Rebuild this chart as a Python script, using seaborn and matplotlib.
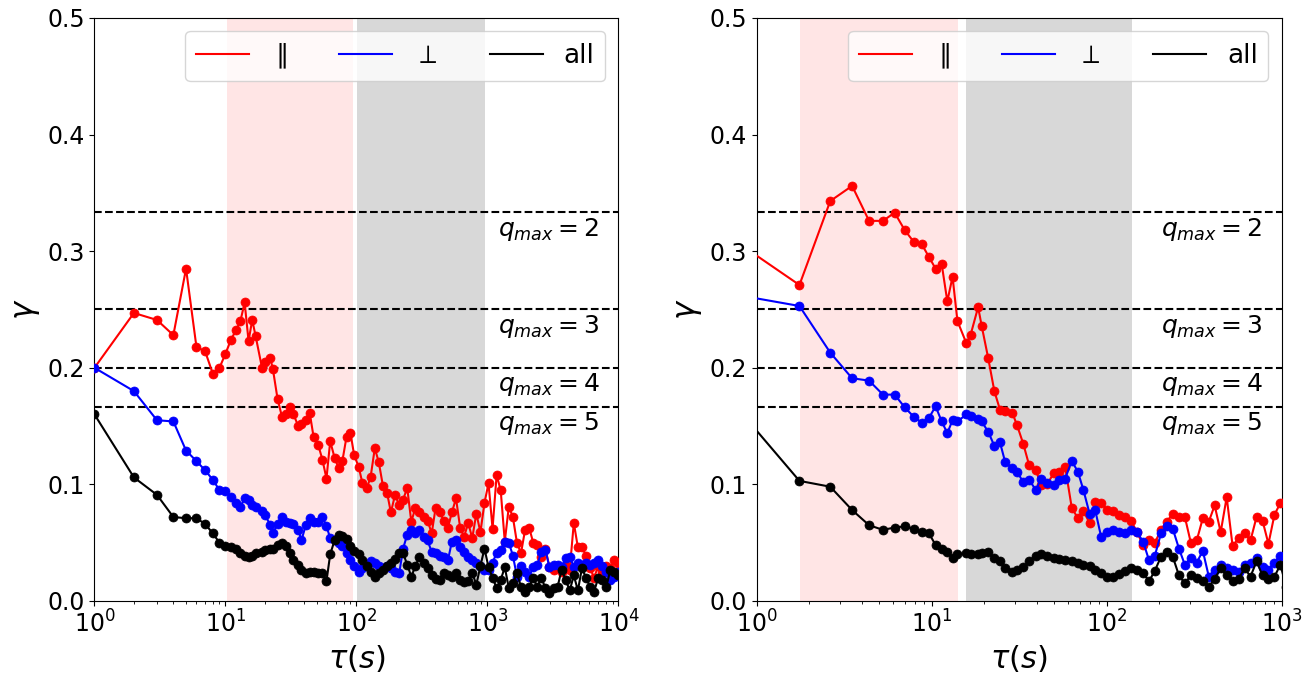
import matplotlib
matplotlib.use("Agg")
import matplotlib.pyplot as plt
from matplotlib.lines import Line2D
import matplotlib.transforms as mtransforms
import numpy as np
import pandas as pd
import seaborn as sns

# ---- data ----
# left panel: integer lags on a log grid, 1 .. 1e4
tau_left = np.unique(np.round(np.logspace(0, 4, 130)))

red_left = [0.200, 0.247, 0.241, 0.228, 0.285, 0.218, 0.214, 0.195, 0.200, 0.212, 0.224, 0.232, 0.240, 0.256, 0.223, 0.241, 0.227,
            0.200, 0.205, 0.208, 0.199, 0.173, 0.158, 0.160, 0.166, 0.160,
            0.150, 0.152, 0.155, 0.161, 0.141, 0.134, 0.121, 0.105, 0.137, 0.123,
            0.114, 0.120, 0.141, 0.144, 0.125, 0.115, 0.101, 0.097, 0.106, 0.131,
            0.119, 0.099, 0.093, 0.076, 0.091, 0.082, 0.087, 0.097, 0.068, 0.080,
            0.076, 0.072, 0.069, 0.058, 0.080, 0.076, 0.069, 0.063, 0.076, 0.088,
            0.063, 0.055, 0.067, 0.054, 0.075, 0.059, 0.084, 0.101, 0.062, 0.108,
            0.095, 0.051, 0.081, 0.072, 0.050, 0.041, 0.061, 0.063, 0.050, 0.048,
            0.038, 0.045, 0.029, 0.027, 0.030, 0.025, 0.030, 0.027, 0.067, 0.046,
            0.046, 0.039, 0.028, 0.020, 0.030, 0.025, 0.030, 0.028, 0.035, 0.033]

blue_left = [0.200, 0.180, 0.155, 0.154, 0.129, 0.120, 0.112, 0.104, 0.095, 0.094, 0.089, 0.084, 0.081, 0.088, 0.087, 0.082, 0.081,
             0.077, 0.074, 0.065, 0.058, 0.066, 0.072, 0.068, 0.067, 0.066,
             0.061, 0.052, 0.065, 0.071, 0.068, 0.068, 0.072, 0.064, 0.054, 0.052,
             0.050, 0.047, 0.041, 0.035, 0.030, 0.025, 0.028, 0.030, 0.034, 0.033,
             0.030, 0.028, 0.030, 0.028, 0.025, 0.024, 0.045, 0.057, 0.061, 0.058,
             0.061, 0.055, 0.052, 0.042, 0.041, 0.039, 0.038, 0.035, 0.051, 0.052,
             0.046, 0.042, 0.038, 0.035, 0.033, 0.030, 0.027, 0.027, 0.033, 0.041,
             0.044, 0.051, 0.050, 0.039, 0.021, 0.030, 0.025, 0.021, 0.029, 0.031,
             0.042, 0.044, 0.029, 0.031, 0.031, 0.029, 0.037, 0.038, 0.029, 0.033,
             0.031, 0.033, 0.031, 0.033, 0.035, 0.030, 0.025, 0.018, 0.021, 0.025]

black_left = [0.160, 0.106, 0.091, 0.072, 0.071, 0.071, 0.066, 0.058, 0.050, 0.047, 0.046, 0.045, 0.041, 0.039, 0.038, 0.039, 0.041,
              0.042, 0.044, 0.045, 0.045, 0.048, 0.050, 0.047, 0.041, 0.035,
              0.031, 0.027, 0.024, 0.025, 0.025, 0.024, 0.024, 0.017, 0.040, 0.052,
              0.057, 0.056, 0.053, 0.047, 0.043, 0.040, 0.035, 0.030, 0.025, 0.021,
              0.024, 0.027, 0.030, 0.033, 0.036, 0.041, 0.041, 0.031, 0.021, 0.030,
              0.038, 0.033, 0.028, 0.022, 0.019, 0.018, 0.024, 0.022, 0.021, 0.024,
              0.018, 0.016, 0.017, 0.024, 0.014, 0.030, 0.045, 0.029, 0.020, 0.011,
              0.018, 0.029, 0.011, 0.015, 0.024, 0.012, 0.008, 0.012, 0.020, 0.012,
              0.020, 0.011, 0.007, 0.011, 0.012, 0.027, 0.018, 0.009, 0.022, 0.009,
              0.028, 0.020, 0.012, 0.008, 0.020, 0.018, 0.012, 0.027, 0.025, 0.022]

# right panel: lag index times sampling step
dt_right = 0.877
k_right = [1, 2, 3, 4, 5, 6, 7, 8, 9, 10, 11, 12, 13, 14, 15, 16,
           18, 19, 21, 22, 24, 26, 28, 30, 33, 35, 38,
           41, 45, 48, 52, 57, 61, 66, 72, 78, 84,
           91, 98, 106, 115, 124, 134, 145, 157, 170, 184,
           199, 215, 233, 252, 272, 295, 319, 345, 373, 404,
           437, 472, 511, 553, 598, 647, 700, 757, 819, 886,
           958, 1037, 1121, 1213]
tau_right = dt_right * np.array(k_right)

red_right = [0.302, 0.271, 0.343, 0.356, 0.326, 0.326, 0.333, 0.318, 0.308, 0.306,
             0.295, 0.285, 0.289, 0.257, 0.278, 0.240, 0.221, 0.228, 0.252, 0.236,
             0.208, 0.180, 0.164, 0.163, 0.161, 0.151, 0.135, 0.117, 0.112, 0.0995,
             0.100, 0.110, 0.111, 0.115, 0.080, 0.071, 0.077, 0.067, 0.085, 0.084,
             0.078, 0.077, 0.074, 0.072, 0.069, 0.059, 0.048, 0.052, 0.050, 0.061,
             0.068, 0.075, 0.072, 0.072, 0.050, 0.052, 0.071, 0.068, 0.082, 0.059,
             0.089, 0.047, 0.054, 0.058, 0.052, 0.072, 0.069, 0.049, 0.074, 0.084,
             0.086]

blue_right = [0.261, 0.253, 0.213, 0.191, 0.189, 0.177, 0.177, 0.166, 0.158, 0.153,
              0.157, 0.167, 0.154, 0.144, 0.155, 0.154, 0.160, 0.159, 0.156, 0.154,
              0.145, 0.133, 0.136, 0.119, 0.114, 0.111, 0.102, 0.104, 0.095, 0.105,
              0.101, 0.0995, 0.104, 0.105, 0.120, 0.111, 0.095, 0.075, 0.078, 0.055,
              0.059, 0.061, 0.059, 0.058, 0.061, 0.059, 0.051, 0.035, 0.039, 0.058,
              0.064, 0.062, 0.045, 0.031, 0.037, 0.033, 0.043, 0.021, 0.027, 0.031,
              0.028, 0.027, 0.025, 0.031, 0.033, 0.037, 0.029, 0.027, 0.033, 0.039,
              0.035]

black_right = [0.156, 0.103, 0.098, 0.078, 0.065, 0.061, 0.063, 0.064, 0.062, 0.059,
               0.058, 0.048, 0.045, 0.042, 0.037, 0.040, 0.041, 0.040, 0.040, 0.041,
               0.042, 0.037, 0.034, 0.028, 0.025, 0.027, 0.029, 0.034, 0.039, 0.040,
               0.039, 0.037, 0.036, 0.035, 0.034, 0.033, 0.031, 0.030, 0.027, 0.024,
               0.021, 0.021, 0.023, 0.026, 0.028, 0.027, 0.024, 0.017, 0.026, 0.038,
               0.042, 0.038, 0.022, 0.015, 0.022, 0.020, 0.017, 0.012, 0.019, 0.028,
               0.022, 0.017, 0.019, 0.028, 0.021, 0.034, 0.022, 0.019, 0.021, 0.031,
               0.012]

series_names = [r"$\parallel$", r"$\perp$", "all"]
series_colors = ["red", "blue", "black"]
q_max = [2, 3, 4, 5]

# shaded windows (pink, gray) per panel
spans_left = [(10.3, 94.5), (100.4, 960)]
spans_right = [(1.76, 14.2), (15.8, 139)]

assert len(tau_left) == len(red_left) == len(blue_left) == len(black_left)
assert len(tau_right) == len(red_right) == len(blue_right) == len(black_right)

# ------------------------------------------------------------------

fig = plt.figure(figsize=(13.14, 6.73), dpi=100)
ax1 = fig.add_axes([0.0719, 0.107, 0.3988, 0.8663])
ax2 = fig.add_axes([0.5759, 0.107, 0.3995, 0.8663])

panels = [
    (ax1, tau_left, [red_left, blue_left, black_left], spans_left, (1, 1e4)),
    (ax2, tau_right, [red_right, blue_right, black_right], spans_right, (1, 1e3)),
]

for ax, tau, vals, spans, xlim in panels:
    ax.axvspan(*spans[0], color="red", alpha=0.1, lw=0, zorder=0)
    ax.axvspan(*spans[1], color="gray", alpha=0.3, lw=0, zorder=0)

    for q in q_max:
        ax.axhline(1 / (q + 1), color="k", ls="--", lw=1.5, zorder=1)
    trans = mtransforms.blended_transform_factory(ax.transAxes, ax.transData)
    for q in q_max:
        ax.text(0.77, 1 / (q + 1) - 0.020, r"$q_{max} = %d$" % q, transform=trans,
                ha="left", va="baseline", fontsize=18)

    for v, c in zip(vals, series_colors):
        df = pd.DataFrame({"tau": tau, "gamma": v})
        sns.lineplot(data=df, x="tau", y="gamma", ax=ax, color=c, marker="o",
                     markersize=6.5, markeredgecolor=c, markeredgewidth=0.5,
                     linewidth=1.5, legend=False, zorder=3)

    ax.set_xscale("log")
    ax.set_xlim(*xlim)
    ax.set_ylim(0, 0.5)
    ax.set_yticks([0.0, 0.1, 0.2, 0.3, 0.4, 0.5])
    ax.tick_params(labelsize=17)
    ax.set_xlabel(r"$\tau(s)$", fontsize=22)
    ax.set_ylabel(r"$\gamma$", fontsize=22)

    handles = [Line2D([], [], color=c, lw=1.5) for c in series_colors]
    ax.legend(handles, series_names, loc="upper right", ncol=3, fontsize=19)

plt.savefig("out.png", dpi=100)
